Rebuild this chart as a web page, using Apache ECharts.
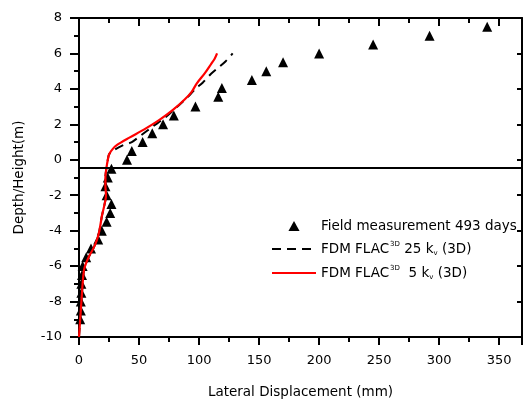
<!DOCTYPE html>
<html>
<head>
<meta charset="utf-8">
<script src="https://cdn.jsdelivr.net/npm/echarts@6/dist/echarts.min.js"></script>
<style>html,body{margin:0;padding:0;background:#fff;}#c{width:523px;height:401px;}</style>
</head>
<body>
<div id="c"></div>
<script>
// Field measurement 493 days: [displacement (mm), depth/height (m)]
const fieldX = [340, 292, 245, 200, 170, 156, 144, 119, 116, 97, 79, 70, 61, 53, 44, 40, 27, 24, 22, 23, 27, 26, 23, 19, 16, 10, 6, 3, 2.5, 2, 2, 1.5, 1.5, 1];
const fieldY = [7.5, 7.0, 6.5, 6.0, 5.5, 5.0, 4.5, 4.05, 3.55, 3.0, 2.5, 2.0, 1.5, 1.0, 0.5, 0.0, -0.5, -1.0, -1.5, -2.0, -2.5, -3.0, -3.5, -4.0, -4.5, -5.0, -5.5, -6.0, -6.5, -7.0, -7.5, -8.0, -8.5, -9.0];

// FDM FLAC3D 25 kv (3D)
const fdm25X = [0, 1, 2, 2.5, 3, 4, 5, 8, 12, 15, 17, 19, 21, 22.5, 22, 22, 23, 24, 25, 28, 36, 44, 52, 62, 72, 82, 90, 97, 103, 110, 116, 122, 128];
const fdm25Y = [-10, -9, -8, -7.5, -7, -6.3, -6, -5.5, -5, -4.5, -4, -3.2, -2.6, -2, -1.5, -1, -0.4, 0, 0.3, 0.5, 0.8, 1.0, 1.4, 1.9, 2.4, 3.0, 3.5, 4.0, 4.35, 4.85, 5.2, 5.55, 6.0];

// FDM FLAC3D 5 kv (3D)
const fdm5X = [0, 1, 2, 2.5, 3, 4, 5, 8, 12, 15, 17, 19, 21, 22.5, 22, 22, 23, 24, 25, 28, 32, 42, 54, 67, 78, 88, 94, 98, 105, 110, 113, 115];
const fdm5Y = [-10, -9, -8, -7.5, -7, -6.3, -6, -5.5, -5, -4.5, -4, -3.2, -2.6, -2, -1.5, -1, -0.4, 0, 0.3, 0.6, 0.85, 1.25, 1.7, 2.25, 2.8, 3.4, 3.85, 4.3, 4.9, 5.4, 5.7, 6.0];

// horizontal reference level (m)
const refLineY = [-0.45];

const seriesNames = ['Field measurement 493 days', 'FDM FLAC3D 25 kv (3D)', 'FDM FLAC3D 5 kv (3D)'];
const xTitle = 'Lateral Displacement (mm)';
const yTitle = 'Depth/Height(m)';

const FONT = 'DejaVu Sans';
const zip = (xs, ys) => xs.map((x, i) => [x, ys[i]]);

const legendFormat = {};
legendFormat[seriesNames[0]] = '{n|Field measurement 493 days}';
legendFormat[seriesNames[1]] = '{n|FDM FLAC}{sup|3D}{n| 25 k}{sub|v}{n| (3D)}';
legendFormat[seriesNames[2]] = '{n|FDM FLAC}{sup|3D}{n|  5 k}{sub|v}{n| (3D)}';

const chart = echarts.init(document.getElementById('c'), null, {renderer: 'canvas'});
const axisLineStyle = {color: '#000', width: 2};
const baseX = {
  type: 'value', min: 0, max: 369, interval: 50,
  splitLine: {show: false},
  axisLine: {show: true, onZero: false, lineStyle: axisLineStyle},
};
const baseY = {
  type: 'value', min: -10, max: 8, interval: 2,
  splitLine: {show: false},
  axisLine: {show: true, onZero: false, lineStyle: axisLineStyle},
};
chart.setOption({
  animation: false,
  backgroundColor: '#fff',
  textStyle: {fontFamily: FONT},
  grid: {left: 79, right: 1, top: 18, bottom: 64, containLabel: false, outerBoundsMode: 'none'},
  xAxis: [
    Object.assign({}, baseX, {
      position: 'bottom',
      name: xTitle, nameLocation: 'middle', nameGap: 48, nameMoveOverlap: false,
      nameTextStyle: {fontFamily: FONT, fontSize: 13.5, color: '#000'},
      axisTick: {show: true, inside: false, length: 8, lineStyle: {color: '#000', width: 2}},
      minorTick: {show: true, splitNumber: 2, length: 5, lineStyle: {color: '#000', width: 2}},
      axisLabel: {show: true, margin: 17, verticalAlign: 'top', fontFamily: FONT, fontSize: 13, color: '#000', showMaxLabel: false}
    }),
    Object.assign({}, baseX, {
      position: 'top',
      axisTick: {show: true, inside: true, length: 8, lineStyle: {color: '#000', width: 2}},
      minorTick: {show: true, splitNumber: 2, length: 5, lineStyle: {color: '#000', width: 2}},
      axisLabel: {show: false}
    })
  ],
  yAxis: [
    Object.assign({}, baseY, {
      position: 'left',
      name: yTitle, nameLocation: 'middle', nameGap: 53, nameRotate: 90,
      nameTextStyle: {fontFamily: FONT, fontSize: 13.5, color: '#000'},
      axisTick: {show: true, inside: false, length: 9, lineStyle: {color: '#000', width: 2}},
      minorTick: {show: true, splitNumber: 2, length: 5, lineStyle: {color: '#000', width: 2}},
      axisLabel: {show: true, margin: 17, fontFamily: FONT, fontSize: 13, color: '#000'}
    }),
    Object.assign({}, baseY, {
      position: 'right',
      axisTick: {show: true, inside: true, length: 5, lineStyle: {color: '#000', width: 2}},
      minorTick: {show: false},
      axisLabel: {show: false}
    })
  ],
  legend: {
    orient: 'vertical', left: 266, top: 214,
    itemWidth: 44, itemHeight: 10, itemGap: 8,
    symbolKeepAspect: true,
    data: [
      {name: seriesNames[0], icon: 'path://M5,0L10,9L0,9Z', itemStyle: {color: '#000', opacity: 1}},
      {name: seriesNames[1], itemStyle: {opacity: 0}},
      {name: seriesNames[2], itemStyle: {opacity: 0}}
    ],
    formatter: name => legendFormat[name],
    textStyle: {
      color: '#000', fontFamily: FONT, fontSize: 13.5,
      rich: {
        n: {fontFamily: FONT, fontSize: 13.5, color: '#000', lineHeight: 16},
        sup: {fontFamily: FONT, fontSize: 7, color: '#000', verticalAlign: 'top', lineHeight: 16, padding: [0, 0, 0, 1]},
        sub: {fontFamily: FONT, fontSize: 7, color: '#000', verticalAlign: 'bottom', lineHeight: 16}
      }
    }
  },
  series: [
    {
      name: seriesNames[0], type: 'scatter', symbol: 'triangle', symbolSize: [10, 10],
      itemStyle: {color: '#000', opacity: 1},
      data: zip(fieldX, fieldY), z: 2,
      markLine: {
        silent: true, symbol: 'none', label: {show: false},
        lineStyle: {color: '#000', width: 2, type: 'solid', opacity: 1},
        data: refLineY.map(v => ({yAxis: v}))
      }
    },
    {
      name: seriesNames[1], type: 'line', showSymbol: false, symbol: 'none', smooth: 0.3,
      lineStyle: {color: '#000', width: 2, type: [9, 6]},
      itemStyle: {color: '#000'},
      data: zip(fdm25X, fdm25Y), z: 3
    },
    {
      name: seriesNames[2], type: 'line', showSymbol: false, symbol: 'none', smooth: 0.3,
      lineStyle: {color: '#ff0000', width: 2.2},
      itemStyle: {color: '#ff0000'},
      data: zip(fdm5X, fdm5Y), z: 4
    }
  ]
});
</script>
</body>
</html>
